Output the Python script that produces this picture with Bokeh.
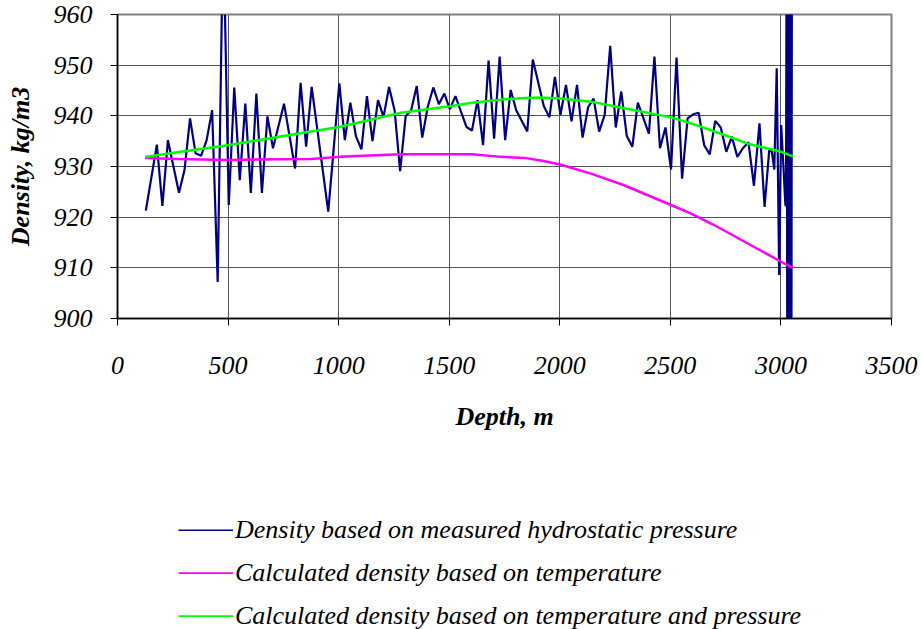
from bokeh.plotting import figure
from bokeh.layouts import column
from bokeh.models import Range1d, FixedTicker, Legend, LegendItem
from bokeh.embed import file_html
from bokeh.resources import INLINE

# ---- data ----
measured_depth = [128, 178, 203, 228, 278, 303, 328, 353, 378, 403, 428, 453, 478, 503,
                  528, 553, 578, 603, 628, 653, 678, 703, 753, 803, 828, 853, 878, 953,
                  1003, 1028, 1053, 1078, 1103, 1128, 1153, 1178, 1203, 1228, 1253, 1278,
                  1303, 1328, 1353, 1378, 1403, 1428, 1453, 1478, 1503, 1528, 1578, 1603,
                  1628, 1653, 1678, 1703, 1728, 1753, 1778, 1803, 1853, 1878, 1928, 1953,
                  1978, 2003, 2028, 2053, 2078, 2103, 2128, 2153, 2178, 2203, 2228, 2253,
                  2278, 2303, 2328, 2353, 2403, 2428, 2453, 2478, 2503, 2528, 2553, 2578,
                  2603, 2628, 2653, 2678, 2703, 2728, 2753, 2778, 2803, 2828, 2853, 2878,
                  2903, 2926, 2947, 2959, 2970, 2981, 2992, 3001, 3012, 3020,
                  3023, 3026, 3029, 3032, 3035, 3038, 3041, 3044, 3047, 3050]
measured_density = [921.3, 934.3, 922.2, 935.2, 924.8, 929.3, 939.5, 932.6, 932.1, 935.2, 941.1, 907.2, 978.0, 922.4,
                    945.6, 927.3, 942.4, 924.8, 944.4, 924.8, 939.9, 933.6, 942.4, 929.6, 946.5, 933.9, 945.7, 921.1,
                    946.4, 935.2, 942.6, 936.0, 933.4, 943.9, 935.0, 943.1, 939.8, 945.7, 941.1, 929.1,
                    939.9, 941.1, 945.9, 935.7, 941.8, 945.6, 942.3, 944.4, 941.3, 943.9, 937.8, 937.1,
                    943.1, 934.2, 950.9, 935.5, 951.7, 935.2, 945.1, 941.1, 936.9, 951.1, 941.9, 939.7,
                    947.7, 940.2, 946.1, 938.9, 946.1, 935.7, 941.7, 943.4, 936.9, 940.2, 953.8, 937.7,
                    944.8, 936.0, 933.9, 942.6, 936.5, 951.7, 933.6, 937.7, 929.4, 951.5, 927.6, 939.5,
                    940.3, 940.6, 934.2, 932.4, 939.0, 937.7, 932.9, 935.9, 931.9, 933.6, 934.8, 926.2,
                    938.5, 922.0, 933.2, 932.9, 929.4, 949.4, 908.6, 938.2, 929.5, 922.4, 922.2,
                    985.0, 875.0, 985.0, 875.0, 985.0, 875.0, 985.0, 875.0, 985.0, 875.0]

model_depth = [124, 270, 498, 874, 1003, 1281, 1502, 1603, 1734, 1839, 1915, 2002, 2141,
               2291, 2503, 2594, 2700, 2850, 3001, 3054]
temp_density = [931.7, 931.5, 931.3, 931.5, 931.9, 932.4, 932.4, 932.4, 931.9, 931.7, 931.2,
                930.4, 928.6, 926.3, 922.4, 920.7, 918.4, 914.8, 911.2, 910.0]
temp_press_density = [931.9, 932.8, 934.2, 936.9, 937.8, 940.6, 941.9, 942.6, 943.2, 943.5,
                      943.6, 943.4, 942.8, 941.5, 939.7, 938.5, 936.9, 934.5, 932.9, 932.0]

x_ticks = [0, 500, 1000, 1500, 2000, 2500, 3000, 3500]
y_ticks = [900, 910, 920, 930, 940, 950, 960]

labels = ["Density based on measured hydrostatic pressure",
          "Calculated density based on temperature",
          "Calculated density based on temperature and pressure"]
colors = ["#000080", "#FF00FF", "#00FF00"]
widths = [2.2, 2.5, 2.5]

FONT = "Liberation Serif"

p = figure(width=921, height=440, output_backend="svg", toolbar_location=None,
           x_range=Range1d(0, 3500), y_range=Range1d(900, 960),
           min_border_left=117, min_border_right=30, min_border_top=14,
           min_border_bottom=122)
p.background_fill_color = "white"
p.border_fill_color = "white"
p.outline_line_color = "#808080"
p.outline_line_width = 2

p.line(measured_depth, measured_density, line_color=colors[0], line_width=widths[0])
p.line(model_depth, temp_density, line_color=colors[1], line_width=widths[1])
p.line(model_depth, temp_press_density, line_color=colors[2], line_width=widths[2])

for ax in (p.xaxis[0], p.yaxis[0]):
    ax.axis_line_color = "black"
    ax.axis_line_width = 1.5
    ax.major_tick_line_color = "black"
    ax.major_tick_in = 0
    ax.major_tick_out = 7
    ax.minor_tick_line_color = None
    ax.major_label_text_font = FONT
    ax.major_label_text_font_style = "italic"
    ax.major_label_text_font_size = "26px"
    ax.major_label_text_color = "black"
    ax.axis_label_text_font = FONT
    ax.axis_label_text_font_style = "bold italic"
    ax.axis_label_text_font_size = "26px"
    ax.axis_label_text_color = "black"

p.xaxis.ticker = FixedTicker(ticks=x_ticks)
p.yaxis.ticker = FixedTicker(ticks=y_ticks)
p.xaxis.axis_label = "Depth, m"
p.yaxis.axis_label = "Density, kg/m3"
p.xaxis.major_label_standoff = 31
p.xaxis.axis_label_standoff = 25
p.yaxis.major_label_standoff = 18
p.yaxis.axis_label_standoff = 16

p.xgrid.ticker = FixedTicker(ticks=x_ticks)
p.ygrid.ticker = FixedTicker(ticks=y_ticks)
for g in (p.xgrid[0], p.ygrid[0]):
    g.grid_line_color = "#555555"
    g.grid_line_width = 1

# ---- legend panel below the chart (its own frame is aligned with the chart's) ----
lg = figure(width=921, height=189, output_backend="svg", toolbar_location=None,
            x_range=Range1d(0, 1), y_range=Range1d(0, 1),
            min_border_left=0, min_border_right=0, min_border_top=0, min_border_bottom=0)
lg.axis.visible = False
lg.grid.visible = False
lg.outline_line_color = None
lg.background_fill_color = "white"
lg.border_fill_color = "white"

series = [(measured_depth, measured_density), (model_depth, temp_density),
          (model_depth, temp_press_density)]
items = []
for lab, c, w, (xs, ys) in zip(labels, colors, widths, series):
    # same series, outside this panel's ranges: only its legend sample shows
    r = lg.line(xs, ys, line_color=c, line_width=w)
    items.append(LegendItem(label=lab, renderers=[r]))

legend = Legend(items=items, location=(61, -2))
legend.label_text_font = FONT
legend.label_text_font_style = "italic"
legend.label_text_font_size = "26px"
legend.label_text_color = "black"
legend.glyph_width = 55
legend.glyph_height = 2
legend.label_standoff = 2
legend.label_height = 26
legend.spacing = 13
legend.padding = 0
legend.margin = 0
legend.border_line_alpha = 0
legend.background_fill_alpha = 0
lg.add_layout(legend, "center")

layout = column(p, lg, spacing=0)
open("out.html", "w").write(file_html(layout, INLINE))
